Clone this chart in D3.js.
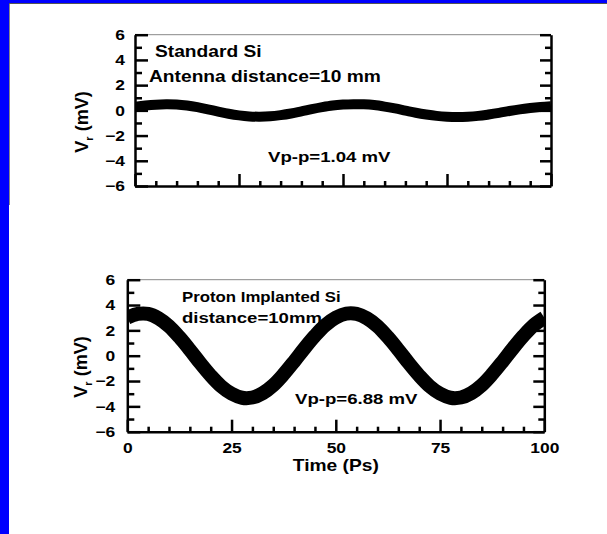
<!DOCTYPE html>
<html>
<head>
<meta charset="utf-8">
<title>Vr vs Time</title>
<script src="https://d3js.org/d3.v7.min.js"></script>
<style>
  body { margin: 0; background: #fff; }
  svg text { font-family: "Liberation Sans", Arial, sans-serif; font-weight: bold; fill: #000; }
</style>
</head>
<body>
<div id="chart"></div>
<script>
// time samples (ps)
const time = [0, 2.5, 5, 7.5, 10, 12.5, 15, 17.5, 20, 22.5, 25, 27.5, 30, 32.5, 35, 37.5, 40,
  42.5, 45, 47.5, 50, 52.5, 55, 57.5, 60, 62.5, 65, 67.5, 70, 72.5, 75, 77.5, 80, 82.5, 85,
  87.5, 90, 92.5, 95, 97.5, 100];

// Vr (mV), standard Si
const vStandard = [0.28, 0.38, 0.45, 0.48, 0.46, 0.38, 0.25, 0.08, -0.1, -0.27, -0.4, -0.48,
  -0.5, -0.47, -0.38, -0.25, -0.08, 0.1, 0.26, 0.39, 0.46, 0.49, 0.48, 0.42, 0.3, 0.15, -0.02,
  -0.19, -0.33, -0.44, -0.5, -0.52, -0.5, -0.44, -0.33, -0.2, -0.05, 0.08, 0.18, 0.26, 0.32];

// Vr (mV), proton implanted Si
const vProton = [3.0, 3.3, 3.3, 2.95, 2.33, 1.46, 0.46, -0.59, -1.57, -2.41, -3.0, -3.32,
  -3.3, -2.95, -2.33, -1.46, -0.46, 0.59, 1.57, 2.41, 3.0, 3.32, 3.3, 2.95, 2.33, 1.46, 0.46,
  -0.59, -1.57, -2.41, -3.0, -3.32, -3.3, -2.95, -2.33, -1.46, -0.46, 0.59, 1.57, 2.41, 3.0];

const yTicks = [-6, -4, -2, 0, 2, 4, 6];
const yMinor = [-5, -3, -1, 1, 3, 5];
const xTicks = [0, 25, 50, 75, 100];
const xMinor = [5, 10, 15, 20, 30, 35, 40, 45, 55, 60, 65, 70, 80, 85, 90, 95];

const notesStandard = ["Standard Si", "Antenna distance=10 mm", "Vp-p=1.04 mV"];
const notesProton = ["Proton Implanted Si", "distance=10mm", "Vp-p=6.88 mV"];

const W = 607, H = 534;
const SX = 1.2; // the original lettering is a bit wide

const svg = d3.select("#chart").append("svg")
  .attr("width", W).attr("height", H);

// blue slide background with white page
svg.append("rect").attr("width", W).attr("height", H).attr("fill", "#0000ff");
svg.append("rect").attr("x", 9).attr("y", 3).attr("width", W - 9).attr("height", H - 3).attr("fill", "#fff");
svg.append("line").attr("x1", 9.5).attr("x2", 9.5).attr("y1", 3).attr("y2", 205).attr("stroke", "#888");
svg.append("line").attr("x1", 9).attr("x2", W).attr("y1", 3.5).attr("y2", 3.5).attr("stroke", "#555");

function stretch(sel) {
  sel.each(function() {
    const t = d3.select(this);
    const tx = +t.attr("x") || 0, ty = +t.attr("y") || 0;
    t.attr("x", 0).attr("y", 0).attr("transform", `translate(${tx},${ty}) scale(${SX},1)`);
  });
}

function note(g, x, y, str, size) {
  g.append("text")
    .attr("transform", `translate(${x},${y}) scale(${SX},1)`)
    .attr("font-size", size)
    .text(str);
}

function drawPanel(p) {
  const x = d3.scaleLinear().domain([0, 100]).range([p.x0, p.x1]);
  const y = d3.scaleLinear().domain([-6, 6]).range([p.y1, p.y0]);
  const g = svg.append("g");

  svg.append("clipPath").attr("id", "clip" + p.id)
    .append("rect")
    .attr("x", p.x0).attr("y", p.y0 - 20)
    .attr("width", p.x1 - p.x0).attr("height", p.y1 - p.y0 + 40);

  const line = d3.line()
    .x((d, i) => x(time[i]))
    .y(d => y(d))
    .curve(d3.curveCatmullRom);

  g.append("path")
    .datum(p.values)
    .attr("clip-path", `url(#clip${p.id})`)
    .attr("d", line)
    .attr("fill", "none")
    .attr("stroke", "#000")
    .attr("stroke-width", p.lw);

  // thin top border
  g.append("line")
    .attr("x1", p.x0).attr("x2", p.x1)
    .attr("y1", p.y0).attr("y2", p.y0)
    .attr("stroke", "#888").attr("stroke-width", 1);

  // left axis
  g.append("g").attr("transform", `translate(${p.x0},0)`)
    .call(d3.axisLeft(y).tickValues(yMinor).tickSize(-7).tickFormat(""))
    .call(s => s.select(".domain").remove());
  const la = g.append("g").attr("transform", `translate(${p.x0},0)`)
    .call(d3.axisLeft(y).tickValues(yTicks).tickSize(-13).tickSizeOuter(0).tickPadding(p.padY));
  la.attr("font-size", 14.5);
  stretch(la.selectAll("text"));

  // right axis
  g.append("g").attr("transform", `translate(${p.x1},0)`)
    .call(d3.axisRight(y).tickValues(yMinor).tickSize(-6).tickFormat(""))
    .call(s => s.select(".domain").remove());
  g.append("g").attr("transform", `translate(${p.x1},0)`)
    .call(d3.axisRight(y).tickValues(yTicks).tickSize(-11).tickSizeOuter(0).tickFormat(""));

  // bottom axis
  g.append("g").attr("transform", `translate(0,${p.y1})`)
    .call(d3.axisBottom(x).tickValues(xMinor).tickSize(-5).tickFormat(""))
    .call(s => s.select(".domain").remove());
  const ba = g.append("g").attr("transform", `translate(0,${p.y1})`)
    .call(d3.axisBottom(x).tickValues(xTicks).tickSize(-12).tickSizeOuter(0).tickPadding(11)
      .tickFormat(p.showX ? d3.format("d") : ""));
  ba.attr("font-size", 14.5);
  stretch(ba.selectAll("text"));

  g.selectAll(".domain, .tick line").attr("stroke", "#000").attr("stroke-width", 2.5);

  // y title
  const yt = g.append("text")
    .attr("transform", `translate(${p.titleX},${p.titleY}) rotate(-90)`)
    .attr("text-anchor", "middle")
    .attr("font-size", 18);
  yt.append("tspan").text("V");
  yt.append("tspan").attr("font-size", 11).attr("dy", 5).text("r");
  yt.append("tspan").attr("dy", -5).text(" (mV)");

  p.notes.forEach((n, i) => note(g, p.noteAt[i][0], p.noteAt[i][1], n, p.noteSize[i]));

  if (p.showX) {
    g.append("text")
      .attr("transform", `translate(${(p.x0 + p.x1) / 2},${p.y1 + 39}) scale(${SX},1)`)
      .attr("text-anchor", "middle")
      .attr("font-size", 16)
      .text("Time (Ps)");
  }
}

drawPanel({
  id: "a", values: vStandard, lw: 10,
  x0: 135, x1: 551, y0: 34.7, y1: 186, padY: 10, showX: false,
  titleX: 88, titleY: 122,
  notes: notesStandard,
  noteAt: [[155, 57.3], [149, 82.3], [268, 162.3]],
  noteSize: [16, 16, 15.5]
});

drawPanel({
  id: "b", values: vProton, lw: 14,
  x0: 127.3, x1: 544.3, y0: 279.7, y1: 431.7, padY: 12, showX: true,
  titleX: 87, titleY: 367,
  notes: notesProton,
  noteAt: [[182, 301.7], [182, 323.3], [295, 404]],
  noteSize: [14, 15.5, 15.5]
});
</script>
</body>
</html>
